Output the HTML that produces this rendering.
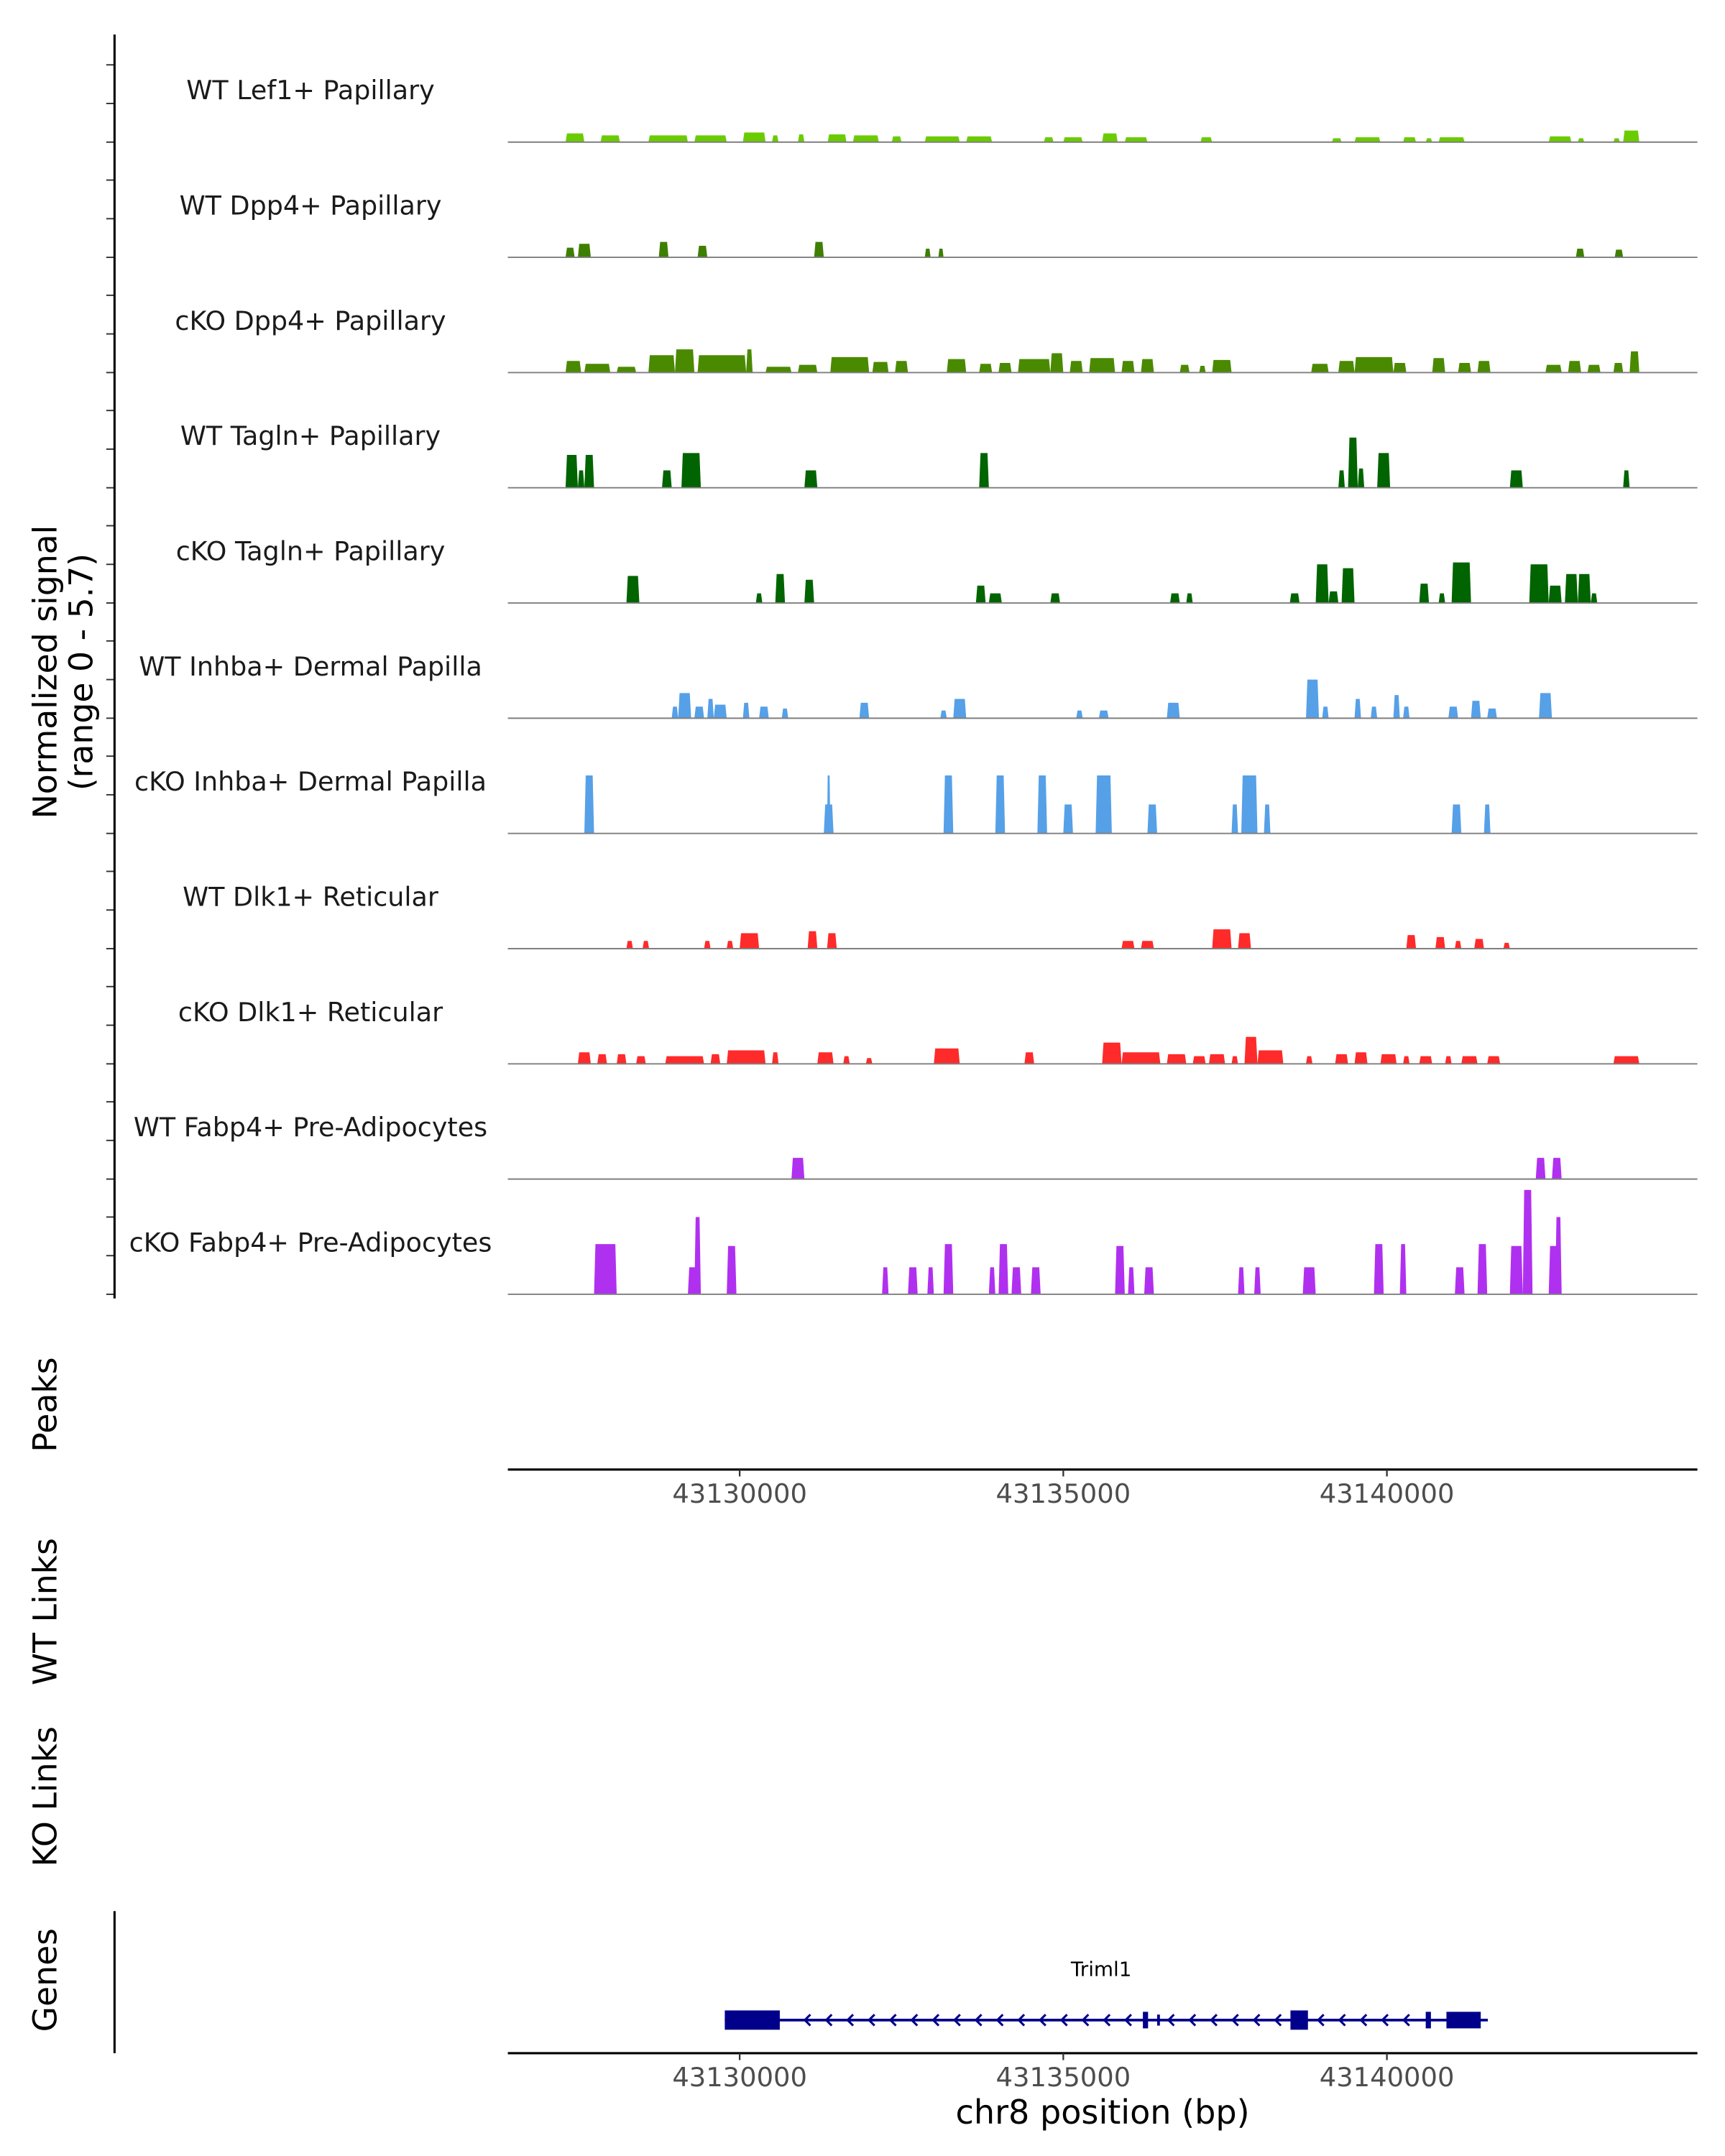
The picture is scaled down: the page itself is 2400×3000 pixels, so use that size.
<!DOCTYPE html>
<html><head><meta charset="utf-8"><style>
html,body{margin:0;padding:0;background:#fff}
svg{display:block}
text{font-family:"DejaVu Sans","Liberation Sans",sans-serif}
</style></head><body>
<svg id="chart" xmlns="http://www.w3.org/2000/svg" width="2400" height="3000" viewBox="0 0 1250 1562.5">
<rect width="1250" height="1562.5" fill="#fff"/>
<g id="tracks"></g>
<g id="axes"></g>
<g id="gene"></g>
</svg>
<script>
const trackLabels = ["WT Lef1+ Papillary","WT Dpp4+ Papillary","cKO Dpp4+ Papillary","WT Tagln+ Papillary","cKO Tagln+ Papillary","WT Inhba+ Dermal Papilla","cKO Inhba+ Dermal Papilla","WT Dlk1+ Reticular","cKO Dlk1+ Reticular","WT Fabp4+ Pre-Adipocytes","cKO Fabp4+ Pre-Adipocytes"];
const trackColors = ["#6ACC00","#3E7F00","#4A8A00","#006400","#006400","#56A0E8","#56A0E8","#FF2A2A","#FF2A2A","#B030F0","#B030F0"];
const xTicks = [43130, 43135, 43140];
const xTickLabels = ["43130000","43135000","43140000"];
const t1 = [[43127.31,43127.60,0.45],[43127.85,43128.15,0.35],[43128.59,43129.20,0.35],[43129.30,43129.80,0.35],[43130.05,43130.40,0.5],[43130.50,43130.60,0.35],[43130.90,43131.00,0.4],[43131.36,43131.65,0.4],[43131.75,43132.15,0.35],[43132.35,43132.50,0.3],[43132.86,43133.40,0.3],[43133.50,43133.90,0.3],[43134.70,43134.85,0.25],[43135.00,43135.30,0.25],[43135.60,43135.84,0.45],[43135.95,43136.30,0.25],[43137.12,43137.30,0.25],[43139.15,43139.30,0.2],[43139.50,43139.90,0.25],[43140.25,43140.45,0.25],[43140.60,43140.70,0.2],[43140.80,43141.20,0.25],[43142.50,43142.85,0.3],[43142.95,43143.05,0.2],[43143.50,43143.60,0.2],[43143.65,43143.90,0.6]];
const t2 = [[43127.31,43127.45,0.5],[43127.50,43127.70,0.7],[43128.75,43128.90,0.8],[43129.35,43129.50,0.6],[43131.15,43131.30,0.8],[43132.86,43132.95,0.45],[43133.07,43133.15,0.45],[43142.92,43143.05,0.45],[43143.52,43143.65,0.4]];
const t3 = [[43127.31,43127.55,0.6],[43127.60,43128.00,0.45],[43128.10,43128.40,0.3],[43128.59,43129.00,0.9],[43129.00,43129.30,1.2],[43129.35,43130.10,0.9],[43130.10,43130.20,1.2],[43130.40,43130.80,0.3],[43130.90,43131.20,0.4],[43131.40,43132.00,0.8],[43132.05,43132.30,0.55],[43132.40,43132.60,0.6],[43133.20,43133.50,0.7],[43133.70,43133.90,0.45],[43134.00,43134.20,0.5],[43134.30,43134.80,0.7],[43134.80,43135.00,1.0],[43135.10,43135.30,0.6],[43135.40,43135.80,0.75],[43135.90,43136.10,0.6],[43136.20,43136.40,0.7],[43136.80,43136.95,0.4],[43137.10,43137.20,0.35],[43137.30,43137.60,0.65],[43138.83,43139.10,0.45],[43139.25,43139.50,0.6],[43139.50,43140.10,0.8],[43140.10,43140.30,0.5],[43140.70,43140.90,0.75],[43141.10,43141.30,0.5],[43141.40,43141.60,0.6],[43142.45,43142.70,0.4],[43142.80,43143.00,0.6],[43143.10,43143.30,0.4],[43143.50,43143.65,0.5],[43143.75,43143.90,1.1]];
const t4 = [[43127.31,43127.50,1.7],[43127.50,43127.60,0.9],[43127.60,43127.75,1.7],[43128.80,43128.95,0.9],[43129.10,43129.40,1.8],[43131.00,43131.20,0.9],[43133.70,43133.85,1.8],[43139.25,43139.35,0.9],[43139.40,43139.55,2.6],[43139.55,43139.65,1.0],[43139.85,43140.05,1.8],[43141.90,43142.10,0.9],[43143.65,43143.75,0.9]];
const t5 = [[43128.25,43128.45,1.4],[43130.25,43130.35,0.5],[43130.55,43130.70,1.5],[43131.00,43131.15,1.2],[43133.65,43133.80,0.9],[43133.85,43134.05,0.5],[43134.80,43134.95,0.5],[43136.65,43136.80,0.5],[43136.90,43137.00,0.5],[43138.50,43138.65,0.5],[43138.90,43139.10,2.0],[43139.10,43139.25,0.6],[43139.30,43139.50,1.8],[43140.50,43140.65,1.0],[43140.80,43140.90,0.5],[43141.00,43141.30,2.1],[43142.20,43142.50,2.0],[43142.50,43142.70,0.9],[43142.75,43142.95,1.5],[43142.95,43143.15,1.5],[43143.15,43143.25,0.5]];
const t6 = [[43128.95,43129.05,0.6],[43129.05,43129.25,1.3],[43129.30,43129.45,0.6],[43129.50,43129.60,1.0],[43129.60,43129.80,0.7],[43130.05,43130.15,0.8],[43130.30,43130.45,0.6],[43130.65,43130.75,0.5],[43131.85,43132.00,0.8],[43133.10,43133.20,0.4],[43133.30,43133.50,1.0],[43135.20,43135.30,0.4],[43135.55,43135.70,0.4],[43136.60,43136.80,0.8],[43138.75,43138.95,2.0],[43139.00,43139.10,0.6],[43139.50,43139.60,1.0],[43139.75,43139.85,0.6],[43140.10,43140.20,1.2],[43140.25,43140.35,0.6],[43140.95,43141.10,0.6],[43141.30,43141.45,0.9],[43141.55,43141.70,0.5],[43142.35,43142.55,1.3]];
const t7 = [[43127.60,43127.75,3.0],[43131.30,43131.45,1.5],[43131.35,43131.40,3.0],[43133.15,43133.30,3.0],[43133.95,43134.10,3.0],[43134.60,43134.75,3.0],[43135.00,43135.15,1.5],[43135.50,43135.75,3.0],[43136.30,43136.45,1.5],[43137.60,43137.70,1.5],[43137.75,43138.00,3.0],[43138.10,43138.20,1.5],[43141.00,43141.15,1.5],[43141.50,43141.60,1.5]];
const t8 = [[43128.25,43128.35,0.4],[43128.50,43128.60,0.4],[43129.45,43129.55,0.4],[43129.80,43129.90,0.4],[43130.00,43130.30,0.8],[43131.05,43131.20,0.9],[43131.35,43131.50,0.8],[43135.90,43136.10,0.4],[43136.20,43136.40,0.4],[43137.30,43137.60,1.0],[43137.70,43137.90,0.8],[43140.30,43140.45,0.7],[43140.75,43140.90,0.6],[43141.05,43141.15,0.4],[43141.35,43141.50,0.5],[43141.80,43141.90,0.3]];
const t9 = [[43127.50,43127.70,0.6],[43127.80,43127.95,0.5],[43128.10,43128.25,0.5],[43128.40,43128.55,0.4],[43128.85,43129.45,0.4],[43129.55,43129.70,0.5],[43129.80,43130.40,0.7],[43130.50,43130.60,0.6],[43131.20,43131.45,0.6],[43131.60,43131.70,0.4],[43131.95,43132.05,0.3],[43133.00,43133.40,0.8],[43134.40,43134.55,0.6],[43135.60,43135.90,1.1],[43135.90,43136.50,0.6],[43136.60,43136.90,0.5],[43137.00,43137.20,0.4],[43137.25,43137.50,0.5],[43137.60,43137.70,0.4],[43137.80,43138.00,1.4],[43138.00,43138.40,0.7],[43138.75,43138.85,0.4],[43139.20,43139.40,0.5],[43139.50,43139.70,0.6],[43139.90,43140.15,0.5],[43140.25,43140.35,0.4],[43140.50,43140.70,0.4],[43140.90,43141.00,0.4],[43141.15,43141.40,0.4],[43141.55,43141.75,0.4],[43143.50,43143.90,0.4]];
const t10 = [[43130.80,43131.00,1.1],[43142.30,43142.45,1.1],[43142.55,43142.70,1.1]];
const t11 = [[43127.75,43128.10,2.6],[43129.20,43129.40,1.4],[43129.30,43129.40,4.0],[43129.80,43129.95,2.5],[43132.20,43132.30,1.4],[43132.60,43132.75,1.4],[43132.90,43133.00,1.4],[43133.15,43133.30,2.6],[43133.85,43133.95,1.4],[43134.00,43134.15,2.6],[43134.20,43134.35,1.4],[43134.50,43134.65,1.4],[43135.80,43135.95,2.5],[43136.00,43136.10,1.4],[43136.25,43136.40,1.4],[43137.70,43137.80,1.4],[43137.95,43138.05,1.4],[43138.70,43138.90,1.4],[43139.80,43139.95,2.6],[43140.20,43140.30,2.6],[43141.05,43141.20,1.4],[43141.40,43141.55,2.6],[43141.90,43142.10,2.5],[43142.10,43142.25,5.4],[43142.50,43142.65,2.5],[43142.60,43142.70,4.0]];
const trackData = [t1,t2,t3,t4,t5,t6,t7,t8,t9,t10,t11];
const geneStart = 43129.77, geneEnd = 43141.56;
const exons = [[43129.77,43130.62,14],[43136.23,43136.31,12],[43136.45,43136.48,8],[43138.51,43138.78,14],[43140.60,43140.68,12],[43140.92,43141.45,12]];

const NS='http://www.w3.org/2000/svg';
const X0=368, X1=1230, firstBase=103, trackStep=83.5, pxPerUnit=14;
function xScale(kb){return 536+(kb-43130)/5*234.5;}
function yScale(v,base){return base-v*pxPerUnit;}
function mk(tag,attrs,parent){const e=document.createElementNS(NS,tag);for(const k in attrs)e.setAttribute(k,attrs[k]);parent.appendChild(e);return e;}
const gT=document.getElementById('tracks'), gA=document.getElementById('axes'), gG=document.getElementById('gene');

trackData.forEach((data,i)=>{
  const base=firstBase+i*trackStep;
  const lab=mk('text',{x:225,y:base-31,'text-anchor':'middle','font-size':19,fill:'#1a1a1a'},gT);
  lab.textContent=trackLabels[i];
  
  
  data.forEach(d=>{
    const xa=xScale(d[0]), xb=xScale(d[1]), yt=yScale(d[2],base);
    const r=Math.min(1,(xb-xa)*0.2);
    const p=mk('polygon',{points:`${xa},${base} ${xa+r},${yt} ${xb-r},${yt} ${xb},${base}`,fill:trackColors[i]},gT);
    
    
  });
  const bl=mk('line',{x1:X0,x2:X1,y1:base,y2:base,stroke:'#7f7f7f','stroke-width':1},gT);
  
  
  [0,2,4].forEach(v=>{
    const t=mk('line',{x1:77,x2:83,y1:yScale(v,base),y2:yScale(v,base),stroke:'#333','stroke-width':1},gA);
    
    
  });
});
mk('line',{x1:83,x2:83,y1:25,y2:941,stroke:'#000','stroke-width':1.6,},gA);
function vtext(txt,x,y,size,name){const t=mk('text',{x:x,y:y,'text-anchor':'middle','font-size':size,fill:'#000',transform:`rotate(-90 ${x} ${y})`},gA);t.textContent=txt;return t;}
vtext('Normalized signal',41,487,23.8,'y-axis-title');
vtext('(range 0 - 5.7)',67,487,23.8,'y-axis-range');
vtext('Peaks',41,1018,23.8,'peaks-label');
vtext('WT Links',41,1168,23.8,'wt-links-label');
vtext('KO Links',41,1302,23.8,'ko-links-label');
vtext('Genes',41,1435,23.8,'genes-label');
[1065,1488].forEach((ay,j)=>{
  const l=mk('line',{x1:X0,x2:X1,y1:ay,y2:ay,stroke:'#000','stroke-width':1.6},gA);
  
  
  xTicks.forEach((v,k)=>{
    const x=xScale(v);
    const tk=mk('line',{x1:x,x2:x,y1:ay,y2:ay+5,stroke:'#333','stroke-width':1.2},gA);
    
    
    const tl=mk('text',{x:x,y:ay+24,'text-anchor':'middle','font-size':19.2,fill:'#4d4d4d'},gA);
    tl.textContent=xTickLabels[k];
    
    
  });
});
const xt=mk('text',{x:799,y:1539,'text-anchor':'middle','font-size':24,fill:'#000'},gA);
xt.textContent='chr8 position (bp)';


mk('line',{x1:83,x2:83,y1:1385,y2:1488,stroke:'#000','stroke-width':1.6,},gA);

// gene
const gy=1464, navy='#00008B';
mk('line',{x1:xScale(geneStart),x2:xScale(geneEnd),y1:gy,y2:gy,stroke:navy,'stroke-width':2,},gG);
for(let x=xScale(geneStart)+58;x<xScale(geneEnd);x+=15.5){
  const inEx=exons.some(e=>x>xScale(e[0])-5&&x<xScale(e[1])+5);
  if(inEx)continue;
  const c=mk('polyline',{points:`${x+4},${gy-4} ${x},${gy} ${x+4},${gy+4}`,fill:'none',stroke:navy,'stroke-width':1.6},gG);
  
  
}
exons.forEach(e=>{
  const r=mk('rect',{x:xScale(e[0]),y:gy-e[2]/2,width:Math.max(2,xScale(e[1])-xScale(e[0])),height:e[2],fill:navy},gG);
  
  
});
const gl=mk('text',{x:798,y:1432,'text-anchor':'middle','font-size':14.5,fill:'#000'},gG);
gl.textContent='Triml1';


</script>
</body></html>
